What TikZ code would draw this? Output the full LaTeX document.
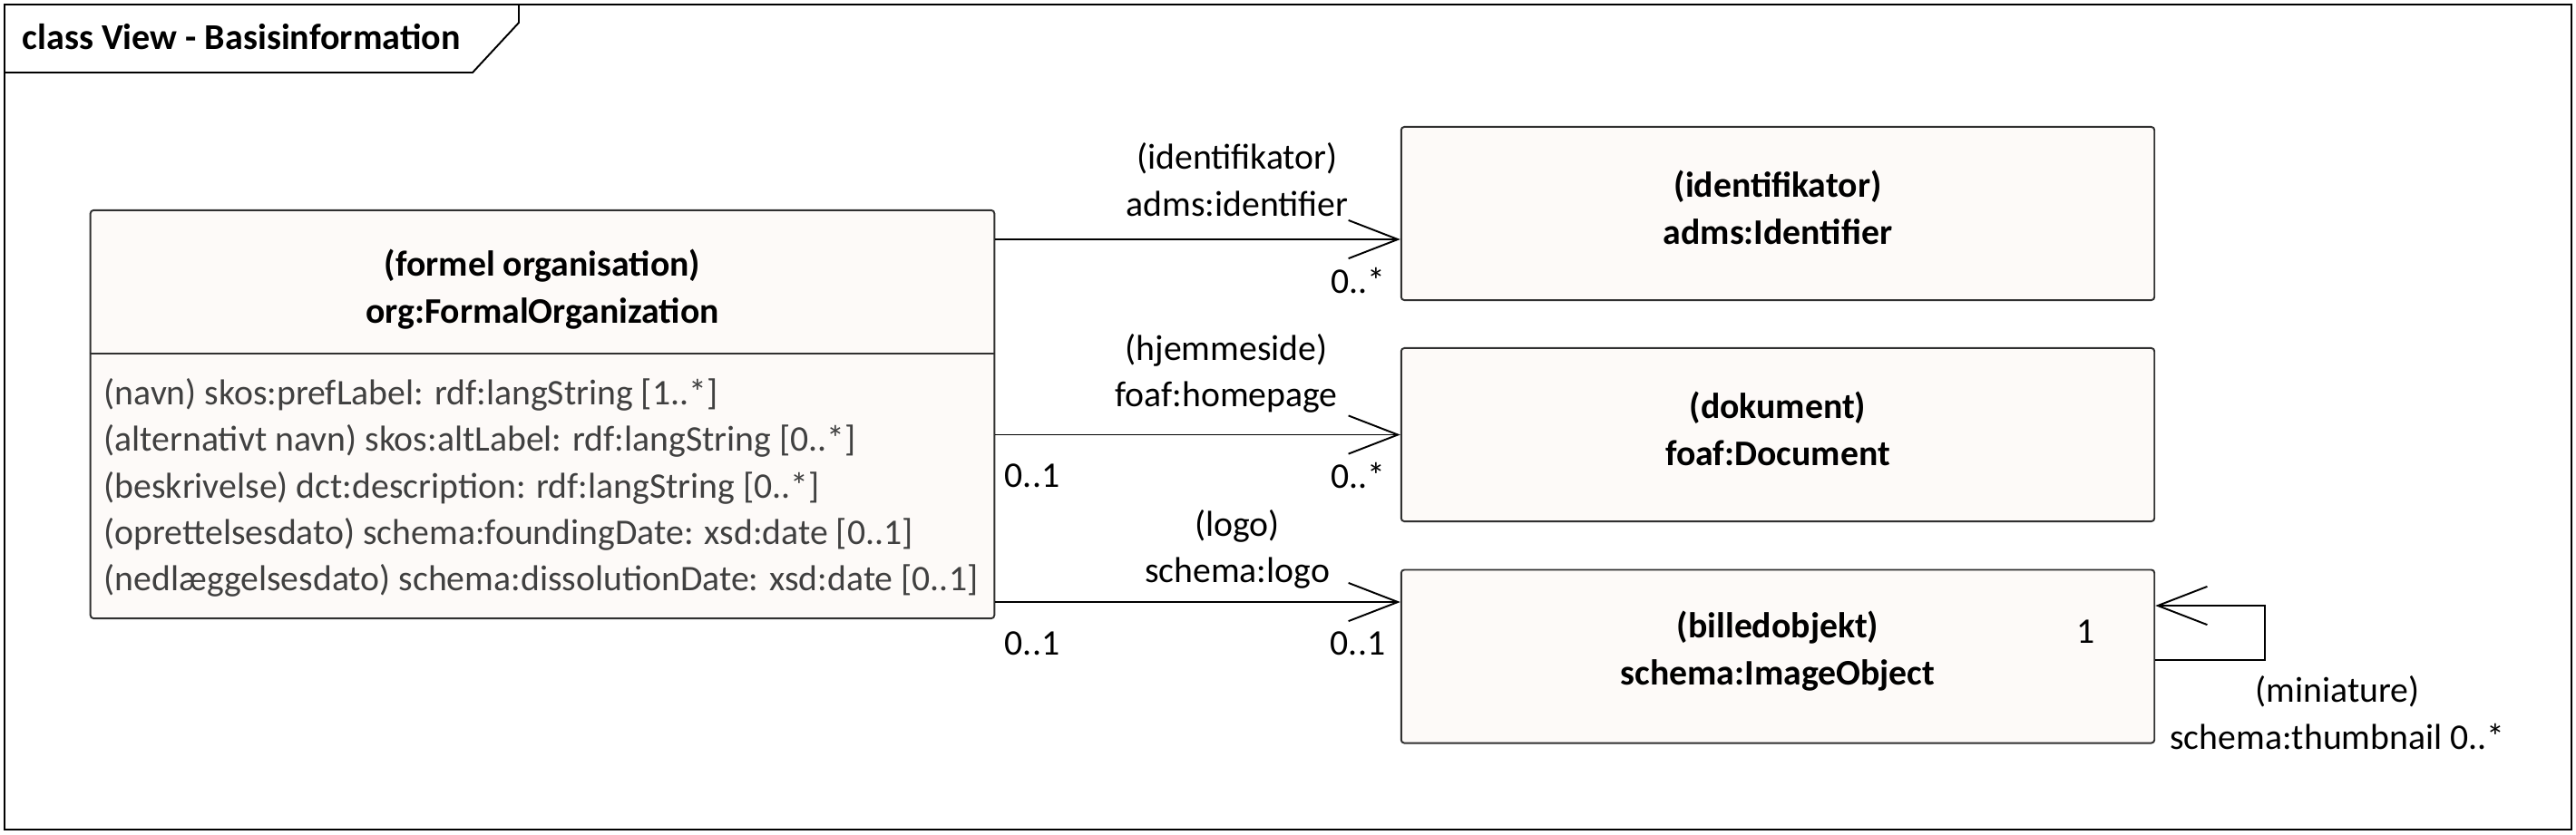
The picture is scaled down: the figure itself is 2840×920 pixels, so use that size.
\documentclass[tikz,border=0pt]{standalone}
\usepackage{fontspec}
\setmainfont{Carlito}
\usepackage{tikz}
\usetikzlibrary{arrows.meta}

\definecolor{boxfill}{HTML}{FDFAF8}
\definecolor{boxline}{HTML}{303030}
\definecolor{attrtext}{HTML}{404040}

\begin{document}
\begin{tikzpicture}[x=0.01cm, y=-0.01cm,
  classbox/.style={draw=boxline, fill=boxfill, rounded corners=1pt, line width=0.55pt,
    inner sep=0pt, minimum width=8.3cm, minimum height=1.91cm},
  classname/.style={font=\fontsize{11.3}{14.8}\selectfont\bfseries, align=center, inner sep=0pt},
  assoc/.style={line width=0.55pt, -{Straight Barb[length=15.5pt, width=12pt]}},
  lbl/.style={font=\fontsize{11.3}{14.6}\selectfont, align=center, inner sep=0pt}]

\useasboundingbox (0,0) rectangle (2840,920);

% Frame
\draw[line width=0.55pt] (5,5) rectangle (2835,915);
\draw[line width=0.55pt] (5,80) -- (521,80) -- (572,25) -- (572,5);
\node[anchor=west, inner sep=0pt, font=\fontsize{11.4}{13}\selectfont\bfseries] (title) at (24,41) {class View - Basisinformation};

% Classes
\node[classbox, minimum width=9.96cm, minimum height=4.5cm] (org) at (598,457) {};
\coordinate (sep) at (0,390);
\draw[boxline, line width=0.55pt] (org.west |- sep) -- (org.east |- sep);
\node[classname] (orgname) at (598,319) {(formel organisation)\\org:FormalOrganization};
\node[lbl, anchor=west, align=left, text=attrtext] (orgattr) at (114,538) {%
  (navn) skos:prefLabel: rdf:langString [1..*]\\
  (alternativt navn) skos:altLabel: rdf:langString [0..*]\\
  (beskrivelse) dct:description: rdf:langString [0..*]\\
  (oprettelsesdato) schema:foundingDate: xsd:date [0..1]\\
  (nedlæggelsesdato) schema:dissolutionDate: xsd:date [0..1]};

\node[classbox] (ident) at (1960,235.5) {};
\node[classname] (identname) at (1960,229) {(identifikator)\\adms:Identifier};
\node[classbox] (doc) at (1960,479.5) {};
\node[classname] (docname) at (1960,473) {(dokument)\\foaf:Document};
\node[classbox] (img) at (1960,724) {};
\node[classname] (imgname) at (1960,718) {(billedobjekt)\\schema:ImageObject};

% Associations
\coordinate (idrow) at (0,264);
\coordinate (logorow) at (0,664);
\draw[assoc] (org.east |- idrow) -- (ident.west |- idrow);
\draw[assoc] (org.east |- doc.west) -- (doc.west);
\draw[assoc] (org.east |- logorow) -- (img.west |- logorow);

% Self association
\coordinate (loopbot) at (2497,728);
\coordinate (looptop) at (2497,668);
\draw[assoc] (img.east |- loopbot) -- (loopbot) -- (looptop) -- (img.east |- looptop);

% Role names and multiplicities
\node[lbl] (idrole) at (1364,198) {(identifikator)\\adms:identifier};
\node[lbl] (idmult) at (1497,310) {0..*};
\node[lbl] (docrole) at (1352,412) {(hjemmeside)\\foaf:homepage};
\node[lbl] (docsrc) at (1138,525) {0..1};
\node[lbl] (docmult) at (1497,525) {0..*};
\node[lbl] (logorole) at (1364,606) {(logo)\\schema:logo};
\node[lbl] (logosrc) at (1138,710) {0..1};
\node[lbl] (logomult) at (1497,710) {0..1};
\node[lbl] (loopsrc) at (2300,697) {1};
\node[lbl] (looprole) at (2577,786) {(miniature)\\schema:thumbnail 0..*};

\end{tikzpicture}
\end{document}
